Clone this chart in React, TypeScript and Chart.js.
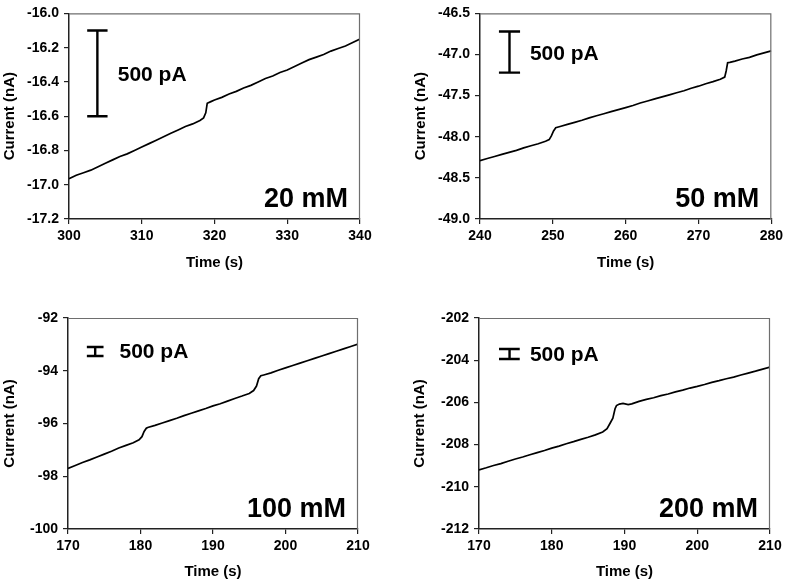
import React, { useEffect, useRef } from 'react';
import { Chart, registerables } from 'chart.js';

Chart.register(...registerables);

// ---------- Panel 1: 20 mM ----------
const time20 = [300, 301, 302, 303, 304, 305, 306, 307, 308, 309, 310, 311, 312, 313, 314, 315, 316, 317, 318, 318.5, 318.8, 319, 319.5, 320, 321, 322, 323, 324, 325, 326, 327, 328, 329, 330, 331, 332, 333, 334, 335, 336, 337, 338, 339, 340];
const current20 = [-16.965, -16.945, -16.93, -16.915, -16.895, -16.875, -16.855, -16.835, -16.82, -16.8, -16.78, -16.76, -16.74, -16.72, -16.7, -16.68, -16.66, -16.645, -16.625, -16.61, -16.58, -16.525, -16.515, -16.505, -16.49, -16.47, -16.455, -16.435, -16.42, -16.4, -16.38, -16.365, -16.345, -16.33, -16.31, -16.29, -16.27, -16.255, -16.24, -16.22, -16.205, -16.19, -16.17, -16.15];

// ---------- Panel 2: 50 mM ----------
const time50 = [240, 241, 242, 243, 244, 245, 246, 247, 248, 249, 249.5, 249.8, 250.1, 250.4, 251, 252, 253, 254, 255, 256, 257, 258, 259, 260, 261, 262, 263, 264, 265, 266, 267, 268, 269, 270, 271, 272, 273, 273.6, 273.8, 274.0, 274.3, 275, 276, 277, 278, 279, 280];
const current50 = [-48.29, -48.265, -48.24, -48.215, -48.19, -48.165, -48.135, -48.11, -48.085, -48.055, -48.035, -47.99, -47.93, -47.89, -47.875, -47.85, -47.825, -47.8, -47.77, -47.745, -47.72, -47.695, -47.67, -47.645, -47.62, -47.59, -47.565, -47.54, -47.515, -47.49, -47.465, -47.44, -47.41, -47.385, -47.355, -47.33, -47.3, -47.275, -47.2, -47.1, -47.095, -47.08, -47.055, -47.035, -47.005, -46.98, -46.955];

// ---------- Panel 3: 100 mM ----------
const time100 = [170, 171, 172, 173, 174, 175, 176, 177, 178, 179, 179.8, 180.2, 180.5, 180.8, 181, 182, 183, 184, 185, 186, 187, 188, 189, 190, 191, 192, 193, 194, 195, 195.6, 196.0, 196.3, 196.6, 197, 198, 199, 200, 201, 202, 203, 204, 205, 206, 207, 208, 209, 210];
const current100 = [-97.7, -97.59, -97.48, -97.38, -97.27, -97.16, -97.05, -96.93, -96.83, -96.73, -96.62, -96.5, -96.3, -96.18, -96.15, -96.07, -95.98, -95.89, -95.8, -95.7, -95.61, -95.52, -95.43, -95.33, -95.25, -95.15, -95.05, -94.96, -94.86, -94.75, -94.58, -94.3, -94.19, -94.16, -94.08, -93.98, -93.89, -93.8, -93.71, -93.62, -93.53, -93.44, -93.35, -93.26, -93.17, -93.08, -92.99];

// ---------- Panel 4: 200 mM ----------
const time200 = [170, 171, 172, 173, 174, 175, 176, 177, 178, 179, 180, 181, 182, 183, 184, 185, 186, 187, 187.6, 188.0, 188.4, 188.7, 188.9, 189.3, 189.8, 190.5, 191, 192, 193, 194, 195, 196, 197, 198, 199, 200, 201, 202, 203, 204, 205, 206, 207, 208, 209, 210];
const current200 = [-209.2, -209.1, -208.99, -208.9, -208.79, -208.68, -208.59, -208.48, -208.38, -208.28, -208.17, -208.07, -207.96, -207.86, -207.75, -207.65, -207.54, -207.4, -207.25, -207.0, -206.75, -206.3, -206.15, -206.08, -206.05, -206.1, -206.07, -205.95, -205.86, -205.78, -205.68, -205.6, -205.5, -205.42, -205.32, -205.24, -205.15, -205.05, -204.97, -204.88, -204.8, -204.7, -204.61, -204.52, -204.42, -204.33];

// ---------- Axis ranges ----------
const xRange20 = [300, 340, 10];
const yRange20 = [-17.2, -16.0, 0.2];
const xRange50 = [240, 280, 10];
const yRange50 = [-49.0, -46.5, 0.5];
const xRange100 = [170, 210, 10];
const yRange100 = [-100, -92, 2];
const xRange200 = [170, 210, 10];
const yRange200 = [-212, -202, 2];

// ---------- Scale bars (500 pA): [capLeft, capRight, centerX], [top, bottom] ----------
const barX20 = [302.5, 305.3, 303.9];
const barY20 = [-16.1, -16.6];
const barX50 = [242.6, 245.5, 244.05];
const barY50 = [-46.72, -47.22];
const barX100 = [172.6, 174.9, 173.75];
const barY100 = [-93.1, -93.44];
const barX200 = [172.75, 175.6, 174.2];
const barY200 = [-203.47, -203.94];

// Scale-bar text anchor [x, y] in data units
const barText20 = [306.7, -16.36];
const barText50 = [246.85, -47.0];
const barText100 = [177.1, -93.29];
const barText200 = [177.0, -203.75];

const barLabel = '500 pA';
const xTitle = 'Time (s)';
const yTitle = 'Current (nA)';

const FONT = '"Liberation Sans", Arial, Helvetica, sans-serif';

const overlayPlugin = {
  id: 'overlay',
  afterDatasetsDraw(chart: any, _args: any, opts: any) {
    const { ctx, chartArea: a, scales } = chart;
    const x = scales.x;
    const y = scales.y;
    ctx.save();
    // top & right frame
    ctx.strokeStyle = '#6e6e6e';
    ctx.lineWidth = 1.2;
    ctx.beginPath();
    ctx.moveTo(a.left, a.top + 0.5);
    ctx.lineTo(a.right - 0.5, a.top + 0.5);
    ctx.lineTo(a.right - 0.5, a.bottom);
    ctx.stroke();
    // scale bar text
    ctx.fillStyle = '#000';
    ctx.font = `bold 21px ${FONT}`;
    ctx.textAlign = 'left';
    ctx.textBaseline = 'middle';
    ctx.fillText(barLabel, x.getPixelForValue(opts.textX), y.getPixelForValue(opts.textY));
    // concentration label
    ctx.font = `bold 27px ${FONT}`;
    ctx.textAlign = 'right';
    ctx.textBaseline = 'alphabetic';
    ctx.fillText(opts.label, a.right - 12, a.bottom - 12);
    ctx.restore();
  },
};

type PanelProps = {
  cl: number; ct: number; cw: number; ch: number;
  pl: number; pt: number; pr: number; pb: number;
  xs: number[]; ys: number[];
  xr: number[]; yr: number[]; dec: number;
  bx: number[]; by: number[]; bt: number[];
  label: string; titlePadBottom: number;
};

function Panel(p: PanelProps) {
  const ref = useRef<HTMLCanvasElement | null>(null);
  useEffect(() => {
    if (!ref.current) return;
    const trace = p.xs.map((v, i) => ({ x: v, y: p.ys[i] }));
    const bar = [
      { x: p.bx[0], y: p.by[0] }, { x: p.bx[1], y: p.by[0] },
      { x: p.bx[1], y: null },
      { x: p.bx[2], y: p.by[0] }, { x: p.bx[2], y: p.by[1] },
      { x: p.bx[2], y: null },
      { x: p.bx[0], y: p.by[1] }, { x: p.bx[1], y: p.by[1] },
    ];
    const yW = p.pl - p.cl;
    const xH = p.ct + p.ch - p.pb;
    const chart = new Chart(ref.current, {
      type: 'line',
      data: {
        datasets: [
          { data: trace as any, borderColor: '#000', borderWidth: 1.7, pointRadius: 0, tension: 0, fill: false },
          { data: bar as any, borderColor: '#000', borderWidth: 2.4, pointRadius: 0, tension: 0, fill: false, spanGaps: false },
        ],
      },
      options: {
        responsive: false,
        animation: false,
        devicePixelRatio: 1,
        layout: { padding: { left: 0, top: p.pt - p.ct, right: p.cl + p.cw - p.pr, bottom: 0 } },
        plugins: {
          legend: { display: false },
          tooltip: { enabled: false },
          overlay: { label: p.label, textX: p.bt[0], textY: p.bt[1] },
        } as any,
        scales: {
          x: {
            type: 'linear',
            min: p.xr[0], max: p.xr[1],
            ticks: { stepSize: p.xr[2], color: '#000', font: { family: FONT, size: 14, weight: 'bold' }, padding: 4, maxRotation: 0, callback: (v: any) => String(v) },
            grid: { drawOnChartArea: false, drawTicks: true, tickLength: 5, color: '#222', lineWidth: 1.2 },
            border: { color: '#222', width: 1.5 },
            title: { display: true, text: xTitle, color: '#000', font: { family: FONT, size: 15, weight: 'bold' }, padding: { top: 0, bottom: p.titlePadBottom } },
            afterFit: (s: any) => { s.height = xH; },
          },
          y: {
            type: 'linear',
            min: p.yr[0], max: p.yr[1],
            ticks: { stepSize: p.yr[2], color: '#000', font: { family: FONT, size: 14, weight: 'bold' }, padding: 5, callback: (v: any) => Number(v).toFixed(p.dec) },
            grid: { drawOnChartArea: false, drawTicks: true, tickLength: 5, color: '#222', lineWidth: 1.2 },
            border: { color: '#222', width: 1.5 },
            title: { display: true, text: yTitle, color: '#000', font: { family: FONT, size: 15, weight: 'bold' }, padding: { top: 1, bottom: 0 } },
            afterFit: (s: any) => { s.width = yW; },
          },
        },
      },
      plugins: [overlayPlugin],
    });
    return () => chart.destroy();
  }, []);
  return (
    <div style={{ position: 'absolute', left: p.cl, top: p.ct, width: p.cw, height: p.ch }}>
      <canvas ref={ref} width={p.cw} height={p.ch} style={{ width: p.cw, height: p.ch, display: 'block' }} />
    </div>
  );
}

export default function App() {
  return (
    <div style={{ position: 'absolute', left: 0, top: 0, width: 787, height: 584, background: '#fff', overflow: 'hidden' }}>
      <Panel cl={0} ct={0} cw={393} ch={290} pl={69} pt={10} pr={360} pb={219}
        xs={time20} ys={current20} xr={xRange20} yr={yRange20} dec={1}
        bx={barX20} by={barY20} bt={barText20} label="20 mM" titlePadBottom={18} />
      <Panel cl={411} ct={0} cw={376} ch={290} pl={480} pt={10} pr={772} pb={219}
        xs={time50} ys={current50} xr={xRange50} yr={yRange50} dec={1}
        bx={barX50} by={barY50} bt={barText50} label="50 mM" titlePadBottom={18} />
      <Panel cl={0} ct={290} cw={393} ch={294} pl={68} pt={318} pr={358} pb={529}
        xs={time100} ys={current100} xr={xRange100} yr={yRange100} dec={0}
        bx={barX100} by={barY100} bt={barText100} label="100 mM" titlePadBottom={3} />
      <Panel cl={410} ct={290} cw={377} ch={294} pl={479} pt={318} pr={770} pb={529}
        xs={time200} ys={current200} xr={xRange200} yr={yRange200} dec={0}
        bx={barX200} by={barY200} bt={barText200} label="200 mM" titlePadBottom={3} />
    </div>
  );
}
